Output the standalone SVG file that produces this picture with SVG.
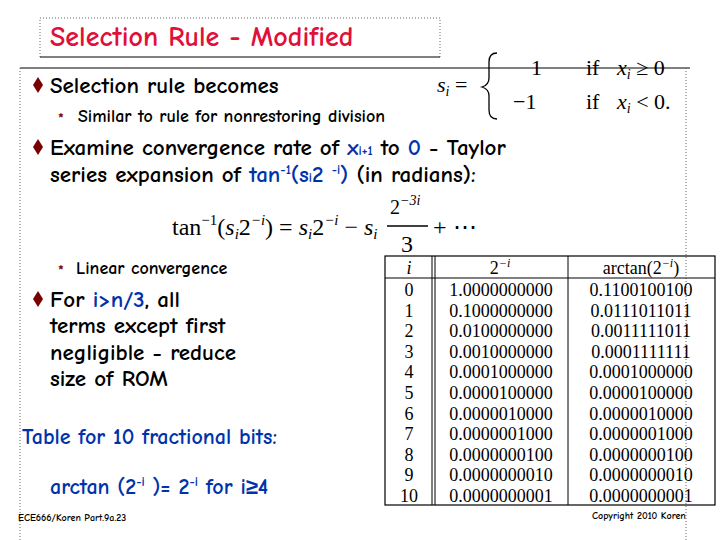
<svg xmlns="http://www.w3.org/2000/svg" width="720" height="540" viewBox="0 0 720 540">
<style>
.t{font-family:"Comic Neue","Liberation Sans",sans-serif;fill:#000;font-weight:bold}
.m{font-family:"Liberation Serif",serif;fill:#000}
.b{fill:#0033aa}
.r{fill:#7a0000}
.tb{font-family:"Liberation Serif",serif;font-size:18px;text-anchor:middle}
.ln{stroke:#000;stroke-width:1.3;fill:none}
</style>
<defs><path id="dm" d="M0 -8L5 0L0 8L-5 0Z" fill="#7a0000"/></defs>
<rect width="720" height="540" fill="#fff"/>
<g id="title">
<path d="M40 57V18H440V57" fill="none" stroke="#666" stroke-dasharray="1,2"/>
<line x1="40" y1="57" x2="440" y2="57" stroke="#000"/>
<text x="50" y="46" class="t" font-size="28" style="fill:#e0103a">Selection Rule - Modified</text>
</g>
<g id="frame">
<line x1="20" y1="68" x2="690" y2="68" stroke="#000"/>
<path d="M20 68V540M686 68V540" stroke="#666" stroke-dasharray="1,2"/>
</g>
<g id="bullets" class="t">
<use href="#dm" x="38" y="85"/>
<text x="50" y="93" font-size="23">Selection rule becomes</text>
<text x="58" y="124" font-size="15" class="r">*</text>
<text x="78" y="122" font-size="18">Similar to rule for nonrestoring division</text>
<use href="#dm" x="38" y="147"/>
<text x="50" y="155" font-size="23">Examine convergence rate of <tspan class="b">x<tspan font-size="13">i+1</tspan></tspan> to <tspan class="b">0</tspan> - Taylor</text>
<text x="50" y="182" font-size="23">series expansion of <tspan class="b">tan<tspan font-size="13" dy="-8">-1</tspan><tspan dy="8">(s</tspan><tspan font-size="13">i</tspan>2 <tspan font-size="13" dy="-8">-i</tspan><tspan dy="8">)</tspan></tspan> (in radians):</text>
<text x="58" y="276" font-size="15" class="r">*</text>
<text x="76" y="274" font-size="18">Linear convergence</text>
<use href="#dm" x="38" y="299"/>
<text x="50" y="307" font-size="23">For <tspan class="b">i&gt;n/3</tspan>, all</text>
<text x="50" y="333" font-size="23">terms except first</text>
<text x="50" y="360" font-size="23">negligible - reduce</text>
<text x="50" y="386" font-size="23">size of ROM</text>
<text x="22" y="444" font-size="22" class="b">Table for 10 fractional bits:</text>
<text x="50" y="494" font-size="22" class="b">arctan (2<tspan font-size="13" dy="-8">-i</tspan><tspan dy="8"> )= 2</tspan><tspan font-size="13" dy="-8">-i</tspan><tspan dy="8">  for i≥4</tspan></text>
<text x="18" y="521" font-size="10">ECE666/Koren Part.9a.23</text>
<text x="592" y="519" font-size="10">Copyright 2010 Koren</text>
</g>
<g id="formula1" class="m">
<text x="437" y="92" font-size="22" font-style="italic">s<tspan font-size="14" dy="4">i</tspan><tspan dy="-4" font-style="normal"> =</tspan></text>
<path d="M497 53Q489 53 489 62V78Q489 85 482 87Q489 89 489 96V110Q489 119 497 119" class="ln"/>
<text x="531" y="75" font-size="22">1</text>
<text x="586" y="75" font-size="22">if</text>
<text x="617" y="75" font-size="22" font-style="italic">x<tspan font-size="14" dy="4">i</tspan><tspan dy="-4" font-style="normal"> ≥ 0</tspan></text>
<text x="513" y="109" font-size="22">−1</text>
<text x="586" y="109" font-size="22">if</text>
<text x="617" y="109" font-size="22" font-style="italic">x<tspan font-size="14" dy="4">i</tspan><tspan dy="-4" font-style="normal"> &lt; 0.</tspan></text>
</g>
<g id="formula2" class="m" font-size="24">
<text x="172" y="235">tan<tspan font-size="15" dy="-10">−1</tspan><tspan dy="10">(</tspan><tspan font-style="italic">s</tspan><tspan font-size="15" dy="4" font-style="italic">i</tspan><tspan dy="-4">2</tspan><tspan font-size="15" dy="-10" font-style="italic">−i</tspan><tspan dy="10">) = </tspan><tspan font-style="italic">s</tspan><tspan font-size="15" dy="4" font-style="italic">i</tspan><tspan dy="-4">2</tspan><tspan font-size="15" dy="-10" font-style="italic">−i</tspan><tspan dy="10"> − </tspan><tspan font-style="italic">s</tspan><tspan font-size="15" dy="4" font-style="italic">i</tspan></text>
<text x="390" y="214" font-size="20">2<tspan font-size="14" dy="-9" font-style="italic">−3i</tspan></text>
<line x1="387" y1="226" x2="428" y2="226" stroke="#000" stroke-width="1.3"/>
<text x="407" y="252" text-anchor="middle">3</text>
<text x="433" y="235">+ ⋯</text>
</g>
<g id="table">
<rect x="385" y="256" width="330" height="249" fill="none" stroke="#000" stroke-width="1.2"/>
<path d="M385 278H715M432 256V505M435 256V505M568 256V505" stroke="#000" stroke-width="1"/>
<g class="m">
<text x="409" y="274" class="tb" font-style="italic">i</text>
<text x="500" y="274" class="tb">2<tspan font-size="12" dy="-7" font-style="italic">−i</tspan></text>
<text x="641" y="274" class="tb">arctan(2<tspan font-size="12" dy="-7" font-style="italic">−i</tspan><tspan dy="7">)</tspan></text>
</g>
<g>
<text x="409" y="296" class="tb">0</text><text x="501" y="296" class="tb">1.0000000000</text><text x="641" y="296" class="tb">0.1100100100</text>
<text x="409" y="317" class="tb">1</text><text x="501" y="317" class="tb">0.1000000000</text><text x="641" y="317" class="tb">0.0111011011</text>
<text x="409" y="337" class="tb">2</text><text x="501" y="337" class="tb">0.0100000000</text><text x="641" y="337" class="tb">0.0011111011</text>
<text x="409" y="358" class="tb">3</text><text x="501" y="358" class="tb">0.0010000000</text><text x="641" y="358" class="tb">0.0001111111</text>
<text x="409" y="378" class="tb">4</text><text x="501" y="378" class="tb">0.0001000000</text><text x="641" y="378" class="tb">0.0001000000</text>
<text x="409" y="399" class="tb">5</text><text x="501" y="399" class="tb">0.0000100000</text><text x="641" y="399" class="tb">0.0000100000</text>
<text x="409" y="420" class="tb">6</text><text x="501" y="420" class="tb">0.0000010000</text><text x="641" y="420" class="tb">0.0000010000</text>
<text x="409" y="440" class="tb">7</text><text x="501" y="440" class="tb">0.0000001000</text><text x="641" y="440" class="tb">0.0000001000</text>
<text x="409" y="461" class="tb">8</text><text x="501" y="461" class="tb">0.0000000100</text><text x="641" y="461" class="tb">0.0000000100</text>
<text x="409" y="481" class="tb">9</text><text x="501" y="481" class="tb">0.0000000010</text><text x="641" y="481" class="tb">0.0000000010</text>
<text x="409" y="502" class="tb">10</text><text x="501" y="502" class="tb">0.0000000001</text><text x="641" y="502" class="tb">0.0000000001</text>
</g>
</g>
</svg>
